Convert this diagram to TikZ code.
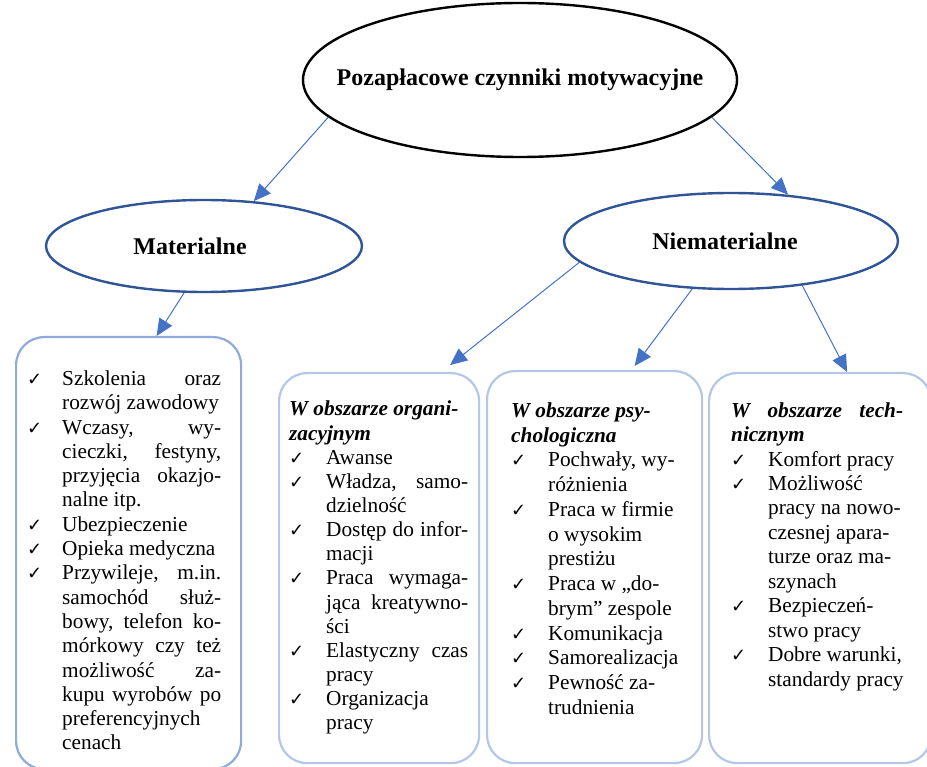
\documentclass[tikz,border=0pt]{standalone}
\usepackage{fontspec}
\setmainfont{Liberation Serif}
\newfontfamily\symfont{DejaVu Sans}
\usepackage{tikz}
\usetikzlibrary{arrows.meta,shapes.geometric,positioning}
\definecolor{PMBlue}{HTML}{4472C4}
\definecolor{PMNavy}{HTML}{2F5597}
\definecolor{PMFrame}{HTML}{8FAADC}
\definecolor{PMFrameLight}{HTML}{B4C7E7}
\newlength{\tickind}
\setlength{\tickind}{37pt}
\newcommand{\tick}{{\symfont\bfseries\fontsize{18}{18}\selectfont ✓}}
\newcommand{\pkt}[1]{\par\noindent\hangindent=\tickind\hangafter=1\makebox[\tickind][l]{\tick}#1\par}
\newcommand{\naglowek}[1]{\par\noindent{\bfseries\itshape #1}\par}
\tolerance=10000
\hyphenpenalty=10000
\frenchspacing

\begin{document}
\begin{tikzpicture}[x=1pt,y=-1pt,
  oval/.style={ellipse,line width=2.4pt,inner sep=0pt,font=\fontsize{24}{28}\selectfont\bfseries},
  ramka/.style={draw=#1,line width=2.2pt,rounded corners=28pt,anchor=north west},
  lista/.style 2 args={anchor=north west,inner sep=0pt,text width=#1,align=justify,font=\fontsize{21.3}{#2}\selectfont},
  strzalka/.style={draw=PMBlue,line width=1pt,-{Triangle[length=17pt,width=15pt]}}]
\useasboundingbox (0,0) rectangle (927,767);

\node[oval,draw=black,inner xsep=-40pt,minimum width=434pt,minimum height=154pt] (glowny) at (520,80) {Pozapłacowe czynniki motywacyjne};
\node[oval,draw=PMNavy,minimum width=316pt,minimum height=92pt] (mat) at (204,246) {Materialne\hspace*{28pt}};
\node[oval,draw=PMNavy,minimum width=334pt,minimum height=96pt] (niemat) at (731,241) {Niematerialne\hspace*{12pt}};

\node[ramka=PMFrame,minimum width=225pt,minimum height=432pt] (b-mat) at (15,336) {};
\node[ramka=PMFrameLight,minimum width=200pt,minimum height=390pt] (b-org) at (278,372) {};
\node[ramka=PMFrameLight,minimum width=215pt,minimum height=392pt] (b-psy) at (486,370) {};
\node[ramka=PMFrameLight,minimum width=222pt,minimum height=390pt] (b-tech) at (708,372) {};

\node[lista={194pt}{24.3pt}] (t-mat) at (27,361) {\setlength{\tickind}{35pt}%
  \pkt{Szkolenia oraz\linebreak rozwój zawodowy}
  \pkt{Wczasy, wy-\linebreak cieczki, festyny,\linebreak przyjęcia okazjo-\linebreak nalne itp.}
  \pkt{Ubezpieczenie}
  \pkt{Opieka medyczna}
  \pkt{Przywileje, m.in.\linebreak samochód służ-\linebreak bowy, telefon ko-\linebreak mórkowy czy też\linebreak możliwość za-\linebreak kupu wyrobów po\linebreak preferencyjnych\newline cenach}
};
\node[lista={179pt}{24.15pt}] (t-org) at (289,391.5) {
  \naglowek{W obszarze organi-\newline zacyjnym}
  \pkt{Awanse}
  \pkt{Władza, samo-\linebreak dzielność}
  \pkt{Dostęp do infor-\linebreak macji}
  \pkt{Praca wymaga-\linebreak jąca kreatywno-\linebreak ści}
  \pkt{Elastyczny czas\linebreak pracy}
  \pkt{Organizacja\newline pracy}
};
\node[lista={178pt}{24.75pt}] (t-psy) at (511,392.5) {
  \naglowek{W obszarze psy-\newline chologiczna}
  \pkt{Pochwały, wy-\newline różnienia}
  \pkt{Praca w firmie\newline o wysokim\newline prestiżu}
  \pkt{Praca w „do-\newline brym” zespole}
  \pkt{Komunikacja}
  \pkt{Samorealizacja}
  \pkt{Pewność za-\newline trudnienia}
};
\node[lista={180pt}{24.45pt}] (t-tech) at (731,392.5) {
  \naglowek{\makebox[172pt][s]{W obszarze tech-}\newline nicznym}
  \pkt{Komfort pracy}
  \pkt{Możliwość\newline pracy na nowo-\newline czesnej apara-\newline turze oraz ma-\newline szynach}
  \pkt{Bezpieczeń-\newline stwo pracy}
  \pkt{Dobre warunki,\newline standardy pracy}
};

\draw[strzalka] (glowny.191) -- (mat.42);
\draw[strzalka] (glowny.349) -- (niemat.39);
\draw[strzalka] (mat.247) -- ([xshift=28pt]b-mat.north);
\draw[strzalka] (niemat.188) -- ([xshift=71pt,yshift=7pt]b-org.north);
\draw[strzalka] (niemat.231) -- ([xshift=40pt,yshift=4pt]b-psy.north);
\draw[strzalka] (niemat.328) -- ([xshift=27pt]b-tech.north);
\end{tikzpicture}
\end{document}
